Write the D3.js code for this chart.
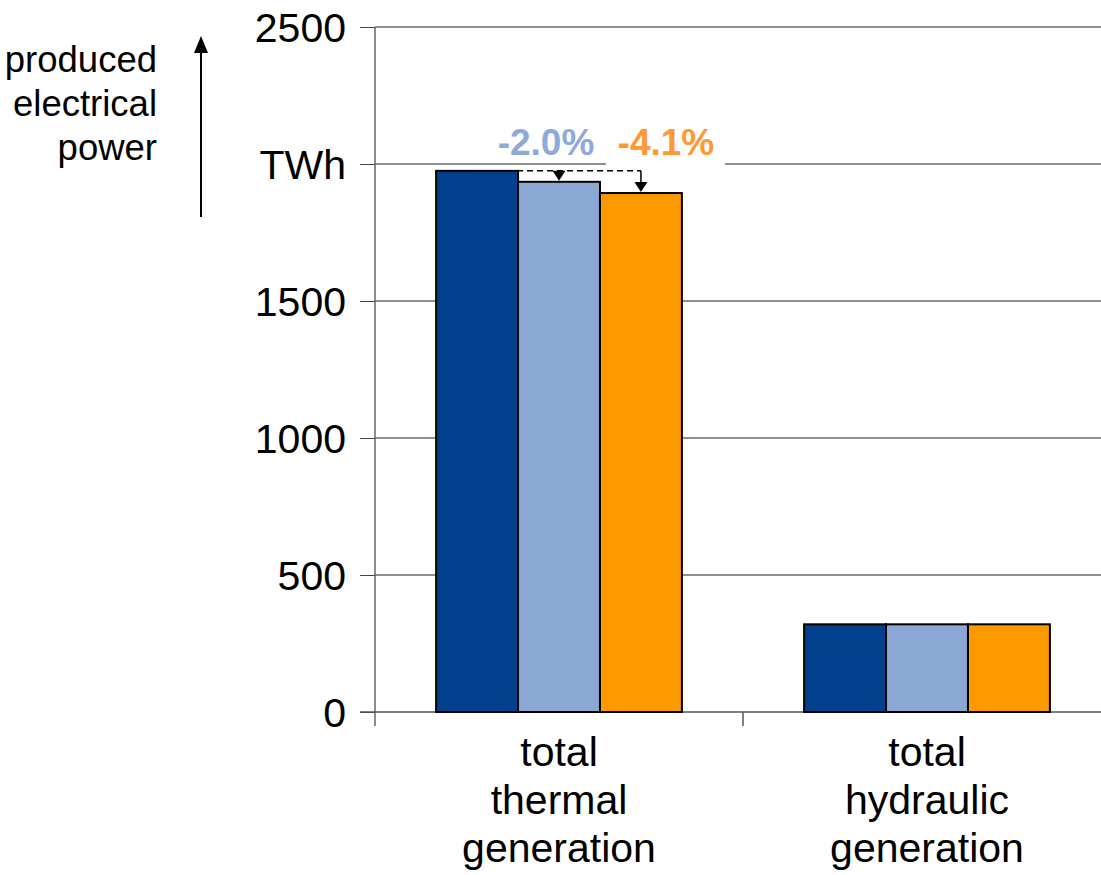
<!DOCTYPE html>
<html>
<head>
<meta charset="utf-8">
<script src="https://cdn.jsdelivr.net/npm/d3@7"></script>
<style>
  html, body { margin: 0; padding: 0; background: #fff; }
  svg { display: block; font-family: "Liberation Sans", Arial, sans-serif; }
</style>
</head>
<body>
<svg id="chart" width="1101" height="875"></svg>
<script>
// Produced electrical power (TWh) by generation type, three scenarios
const categories = ["total thermal generation", "total hydraulic generation"];
const categoryLines = [["total", "thermal", "generation"], ["total", "hydraulic", "generation"]];
const seriesNames = ["base", "scenario A", "scenario B"];
const seriesColors = ["#00408C", "#8BA8D4", "#FF9900"];
const thermalValues = [1975, 1935, 1894];
const hydraulicValues = [320, 320, 320];
const yTicks = [0, 500, 1000, 1500, 2000, 2500];
const yTickLabels = ["0", "500", "1000", "1500", "TWh", "2500"];
const unitLines = ["produced", "electrical", "power"];

const values = [thermalValues, hydraulicValues];

const svg = d3.select("#chart");
const plotLeft = 375, plotRight = 1111, plotTop = 27, plotBottom = 712;

const x = d3.scaleBand().domain(categories).range([plotLeft, plotRight]).paddingInner(0).paddingOuter(0);
const groupWidth = x.bandwidth() * 0.668;
const xs = d3.scaleBand().domain(seriesNames).range([0, groupWidth]).padding(0);
const y = d3.scaleLinear().domain([0, 2500]).range([plotBottom, plotTop]);

// percentage format with a plain hyphen as minus sign
const pctFormat = d3.formatLocale({ decimal: ".", thousands: ",", grouping: [3], currency: ["", ""], minus: "-" }).format(".1f");

// horizontal gridlines
svg.append("g")
  .selectAll("line")
  .data(yTicks.filter(d => d > 0))
  .join("line")
  .attr("x1", plotLeft).attr("x2", plotRight)
  .attr("y1", d => y(d)).attr("y2", d => y(d))
  .attr("stroke", "#222").attr("stroke-width", 1);

// y axis
const yAxis = svg.append("g")
  .attr("transform", `translate(${plotLeft},0)`)
  .call(d3.axisLeft(y).tickValues(yTicks).tickSize(15).tickPadding(14)
    .tickFormat((d, i) => yTickLabels[i]));
yAxis.select(".domain").attr("stroke", "#666").attr("stroke-width", 1.5)
  .attr("d", `M0,${plotTop}V${plotBottom + 14}`);
yAxis.selectAll(".tick line").attr("stroke", "#444");
yAxis.selectAll(".tick text")
  .attr("font-size", 41).attr("fill", "#000")
  .attr("font-family", "Liberation Sans, Arial, sans-serif")
  .attr("dy", "0.36em");

// x axis with ticks at category boundaries
const xAxisG = svg.append("g");
xAxisG.append("line")
  .attr("x1", plotLeft - 15).attr("x2", plotRight)
  .attr("y1", plotBottom).attr("y2", plotBottom)
  .attr("stroke", "#555").attr("stroke-width", 1.5);
xAxisG.selectAll("line.bound")
  .data(categories.slice(1))
  .join("line")
  .attr("class", "bound")
  .attr("x1", d => x(d)).attr("x2", d => x(d))
  .attr("y1", plotBottom).attr("y2", plotBottom + 14)
  .attr("stroke", "#555").attr("stroke-width", 1.5);

// category labels
categories.forEach((c, i) => {
  const t = svg.append("text")
    .attr("x", x(c) + x.bandwidth() / 2)
    .attr("y", 766)
    .attr("text-anchor", "middle")
    .attr("font-size", 41)
    .attr("fill", "#000");
  categoryLines[i].forEach((line, j) => {
    t.append("tspan").attr("x", x(c) + x.bandwidth() / 2).attr("dy", j === 0 ? 0 : 48).text(line);
  });
});

// bars
const groups = svg.append("g").selectAll("g")
  .data(categories)
  .join("g")
  .attr("transform", d => `translate(${x(d) + (x.bandwidth() - groupWidth) / 2},0)`);
groups.selectAll("rect")
  .data((d, i) => values[i].map((v, k) => ({ v, k })))
  .join("rect")
  .attr("x", d => xs(seriesNames[d.k]))
  .attr("width", xs.bandwidth())
  .attr("y", d => y(d.v))
  .attr("height", d => y(0) - y(d.v))
  .attr("fill", d => seriesColors[d.k])
  .attr("stroke", "#000").attr("stroke-width", 2);

// change annotations for thermal generation
const gx = x(categories[0]) + (x.bandwidth() - groupWidth) / 2;
const cx = k => gx + xs(seriesNames[k]) + xs.bandwidth() / 2;
const baseY = y(thermalValues[0]);
const pctColors = ["#8EA9DB", "#FF9933"];

// white box behind second label
svg.append("rect")
  .attr("x", cx(2) - 35).attr("y", 122)
  .attr("width", 119).attr("height", 45)
  .attr("fill", "#fff");

svg.append("line")
  .attr("x1", cx(0)).attr("x2", cx(2))
  .attr("y1", baseY).attr("y2", baseY)
  .attr("stroke", "#000").attr("stroke-width", 1.5)
  .attr("stroke-dasharray", "6,4");

[1, 2].forEach(k => {
  const ax = cx(k), ay = y(thermalValues[k]);
  svg.append("line")
    .attr("x1", ax).attr("x2", ax)
    .attr("y1", baseY).attr("y2", ay - 8)
    .attr("stroke", "#000").attr("stroke-width", 1.5);
  svg.append("path")
    .attr("d", `M${ax - 6.5},${ay - 11}L${ax + 6.5},${ay - 11}L${ax},${ay - 1}Z`)
    .attr("fill", "#000");
  const pct = ((thermalValues[k] / thermalValues[0]) - 1) * 100;
  svg.append("text")
    .attr("x", k === 1 ? ax - 13 : ax + 25)
    .attr("y", 155)
    .attr("text-anchor", "middle")
    .attr("font-size", 37)
    .attr("font-weight", "bold")
    .attr("fill", pctColors[k - 1])
    .text(pctFormat(pct) + "%");
});

// unit description with upward arrow
const ul = svg.append("text")
  .attr("x", 157).attr("y", 72)
  .attr("text-anchor", "end")
  .attr("font-size", 36.5)
  .attr("fill", "#000");
unitLines.forEach((line, j) => {
  ul.append("tspan").attr("x", 157).attr("dy", j === 0 ? 0 : 44).text(line);
});
svg.append("line")
  .attr("x1", 201).attr("x2", 201)
  .attr("y1", 217).attr("y2", 48)
  .attr("stroke", "#000").attr("stroke-width", 2);
svg.append("path")
  .attr("d", "M194,53L208,53L201,36Z")
  .attr("fill", "#000");
</script>
</body>
</html>
